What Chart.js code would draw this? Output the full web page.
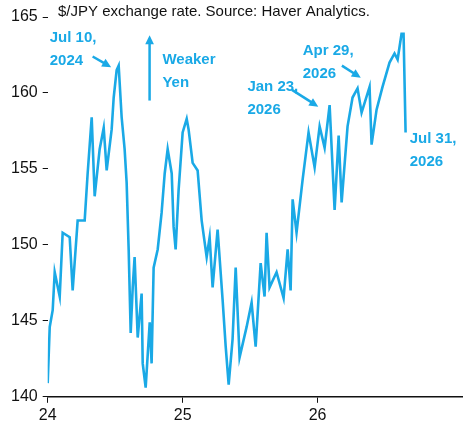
<!DOCTYPE html>
<html>
<head>
<meta charset="utf-8">
<script src="https://cdn.jsdelivr.net/npm/chart.js@4.4.1/dist/chart.umd.min.js"></script>
<style>
  body { margin: 0; background: #fff; }
  #wrap { width: 470px; height: 432px; }
</style>
</head>
<body>
<div id="wrap"><canvas id="c"></canvas></div>
<script>
// time as fractional year (24 = Jan 2024), JPY per USD
const years = [24.000, 24.015, 24.037, 24.052, 24.089, 24.111, 24.163, 24.185, 24.222, 24.274,
  24.296, 24.326, 24.348, 24.385, 24.415, 24.437, 24.474, 24.489, 24.511, 24.526,
  24.548, 24.570, 24.585, 24.600, 24.615, 24.630, 24.644, 24.667, 24.696, 24.704,
  24.726, 24.756, 24.770, 24.785, 24.815, 24.844, 24.867, 24.889, 24.919, 24.933,
  24.948, 24.970, 25.000, 25.030, 25.044, 25.074, 25.111, 25.141, 25.178, 25.200,
  25.222, 25.259, 25.296, 25.319, 25.341, 25.370, 25.393, 25.422, 25.474, 25.511,
  25.541, 25.578, 25.607, 25.622, 25.644, 25.696, 25.748, 25.778, 25.800, 25.815,
  25.844, 25.889, 25.933, 25.978, 26.015, 26.052, 26.089, 26.126, 26.156, 26.178,
  26.222, 26.259, 26.296, 26.326, 26.385, 26.400, 26.437, 26.481, 26.533, 26.570,
  26.593, 26.622, 26.637, 26.652];
const usdJpy = [140.9, 144.6, 145.7, 148.2, 146.6, 150.8, 150.5, 147.0, 151.6, 151.6,
  154.7, 158.4, 153.2, 156.3, 157.7, 154.9, 157.6, 159.7, 161.5, 161.8,
  158.4, 156.3, 154.1, 149.7, 144.2, 147.2, 149.2, 143.9, 146.8, 142.2,
  140.6, 144.9, 142.2, 148.5, 149.7, 152.1, 154.7, 156.3, 154.7, 151.2,
  149.7, 153.6, 157.4, 158.3, 157.6, 155.4, 154.9, 151.6, 149.2, 150.5,
  147.2, 151.0, 146.4, 143.3, 140.8, 143.8, 148.5, 142.6, 144.6, 146.2,
  143.3, 148.8, 146.6, 150.8, 147.2, 148.2, 146.5, 149.7, 147.0, 153.0,
  150.8, 154.3, 157.4, 155.1, 157.8, 156.4, 159.2, 152.3, 157.2, 152.8,
  157.8, 159.7, 160.3, 158.7, 160.4, 156.6, 158.9, 160.4, 162.0, 162.6,
  162.2, 163.9, 163.9, 157.4];
const yearTicks = [24, 25, 26];
const yTicks = [140, 145, 150, 155, 160, 165];

const blue = '#1aa9e6';

// notes: [text lines, x(year), y(value)], arrows: [x1,y1,x2,y2] in data units
const notes = [
  [['Jul 10,', '2024'], 24.015, 163.6],
  [['Weaker', 'Yen'], 24.85, 162.2],
  [['Jan 23,', '2026'], 25.48, 160.4],
  [['Apr 29,', '2026'], 25.89, 162.8],
  [['Jul 31,', '2026'], 26.683, 157.0]
];
const arrows = [
  [24.333, 162.4, 24.47, 161.7],
  [24.755, 159.5, 24.755, 163.8],
  [25.81, 160.2, 26.005, 159.1],
  [26.18, 161.8, 26.32, 161.0]
];

const notesPlugin = {
  id: 'notes',
  afterDraw(chart) {
    const { ctx, scales: { x, y } } = chart;
    ctx.save();
    ctx.fillStyle = '#111';
    ctx.font = '15px "Liberation Sans", Arial, sans-serif';
    ctx.textBaseline = 'middle';
    ctx.fillText('$/JPY exchange rate. Source: Haver Analytics.', 58, 12);
    ctx.fillStyle = blue;
    ctx.font = 'bold 15px "Liberation Sans", Arial, sans-serif';
    notes.forEach(([lines, nx, ny]) => {
      lines.forEach((t, i) => ctx.fillText(t, x.getPixelForValue(nx), y.getPixelForValue(ny) + i * 23));
    });
    ctx.strokeStyle = blue;
    ctx.lineWidth = 2.5;
    arrows.forEach(([x1, y1, x2, y2]) => {
      const ax = x.getPixelForValue(x1), ay = y.getPixelForValue(y1);
      const bx = x.getPixelForValue(x2), by = y.getPixelForValue(y2);
      const ang = Math.atan2(by - ay, bx - ax);
      ctx.beginPath();
      ctx.moveTo(ax, ay);
      ctx.lineTo(bx - 6 * Math.cos(ang), by - 6 * Math.sin(ang));
      ctx.stroke();
      ctx.beginPath();
      ctx.moveTo(bx, by);
      ctx.lineTo(bx - 10 * Math.cos(ang - 0.45), by - 10 * Math.sin(ang - 0.45));
      ctx.lineTo(bx - 10 * Math.cos(ang + 0.45), by - 10 * Math.sin(ang + 0.45));
      ctx.closePath();
      ctx.fill();
    });
    ctx.restore();
  }
};

new Chart(document.getElementById('c'), {
  type: 'line',
  data: {
    datasets: [{
      data: years.map((v, i) => ({ x: v, y: usdJpy[i] })),
      borderColor: blue,
      borderWidth: 2.6,
      pointRadius: 0,
      tension: 0,
      fill: false
    }]
  },
  options: {
    responsive: true,
    maintainAspectRatio: false,
    animation: false,
    layout: { padding: { top: 17, right: 8, left: 6, bottom: 4 } },
    plugins: { legend: { display: false }, tooltip: { enabled: false } },
    scales: {
      x: {
        type: 'linear',
        min: 24,
        max: 27.07,
        afterBuildTicks: (axis) => { axis.ticks = yearTicks.map(v => ({ value: v })); },
        ticks: { color: '#111', font: { size: 16, family: '"Liberation Sans", Arial, sans-serif' }, padding: 3, maxRotation: 0 },
        grid: { drawOnChartArea: false, color: '#111', tickLength: 6 },
        border: { color: '#111', width: 1.5 }
      },
      y: {
        min: 140,
        max: 165,
        afterBuildTicks: (axis) => { axis.ticks = yTicks.map(v => ({ value: v })); },
        ticks: { color: '#111', font: { size: 16, family: '"Liberation Sans", Arial, sans-serif' }, padding: 5 },
        grid: { drawOnChartArea: false, color: '#111', tickLength: 5 },
        border: { display: false }
      }
    }
  },
  plugins: [notesPlugin]
});
</script>
</body>
</html>
